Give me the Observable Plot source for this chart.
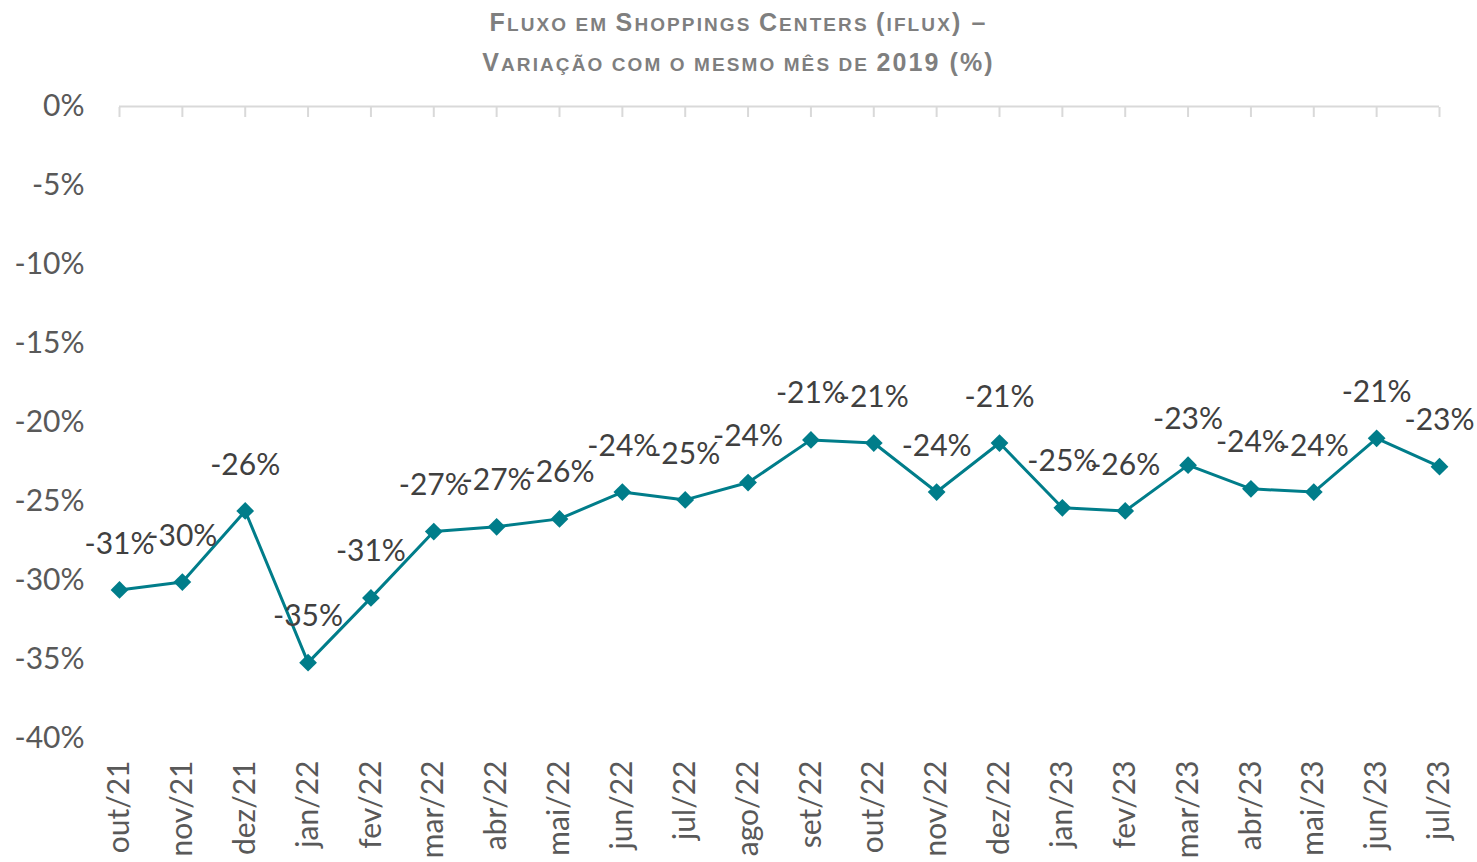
<!DOCTYPE html>
<html>
<head>
<meta charset="utf-8">
<script src="https://cdn.jsdelivr.net/npm/d3@7"></script>
<script src="https://cdn.jsdelivr.net/npm/@observablehq/plot@0.6"></script>
<style>
  html, body { margin: 0; padding: 0; background: #fff; }
  #title {
    width: 1477px; text-align: center; padding-top: 2px; height: 80px;
    font-family: "Liberation Sans Narrow", "Arial Narrow", "Liberation Sans", sans-serif;
    font-weight: bold; color: #7f7f7f;
    font-size: 25px; letter-spacing: 2.1px;
  }
  #title .ln { height: 40px; line-height: 40px; overflow: visible; white-space: nowrap; }
  #title .sc { font-size: 19px; text-transform: uppercase; line-height: 0; }
</style>
</head>
<body>
<div id="title"><div class="ln">F<span class="sc">luxo em </span>S<span class="sc">hoppings </span>C<span class="sc">enters </span>(<span class="sc">iflux</span>) –</div><div class="ln">V<span class="sc">ariação com o mesmo mês de </span>2019 (%)</div></div>
<div id="chart"></div>
<script>
const months = ["out/21","nov/21","dez/21","jan/22","fev/22","mar/22","abr/22","mai/22","jun/22","jul/22","ago/22","set/22","out/22","nov/22","dez/22","jan/23","fev/23","mar/23","abr/23","mai/23","jun/23","jul/23"];
const values = [-30.6,-30.1,-25.6,-35.2,-31.1,-26.9,-26.6,-26.1,-24.4,-24.9,-23.8,-21.1,-21.3,-24.4,-21.3,-25.4,-25.6,-22.7,-24.2,-24.4,-21.0,-22.8];
const yTicks = [0,-5,-10,-15,-20,-25,-30,-35,-40];

const data = months.map((m, i) => ({month: m, value: values[i]}));
const teal = "#007D8A";

const chart = Plot.plot({
  width: 1477,
  height: 782,
  marginTop: 24,
  marginBottom: 126,
  marginLeft: 119,
  marginRight: 38,
  style: {fontFamily: "Lato, 'Open Sans', sans-serif", fontSize: "30px", color: "#595959", background: "#fff"},
  x: {type: "point", domain: months, padding: 0, round: false},
  y: {domain: [-40, 0]},
  marks: [
    Plot.ruleY([0], {stroke: "#d9d9d9", strokeWidth: 2}),
    Plot.axisX({anchor: "top", tickSize: 10, dy: 10, stroke: "#d9d9d9", strokeWidth: 2, tickFormat: () => "", label: null}),
    Plot.axisX({anchor: "bottom", tickSize: 0, tickPadding: 22, tickRotate: -90, label: null, fill: "#595959"}),
    Plot.axisY({ticks: yTicks, tickSize: 0, tickPadding: 35, tickFormat: d => d + "%", label: null, fill: "#595959"}),
    Plot.line(data, {x: "month", y: "value", stroke: teal, strokeWidth: 3}),
    Plot.dot(data, {x: "month", y: "value", symbol: "diamond2", r: 8, fill: teal, stroke: "none"}),
    Plot.text(data, {x: "month", y: "value", text: d => Math.round(d.value) + "%", dy: -46, fill: "#404040", fontSize: 30})
  ]
});
document.getElementById("chart").appendChild(chart);
</script>
</body>
</html>
